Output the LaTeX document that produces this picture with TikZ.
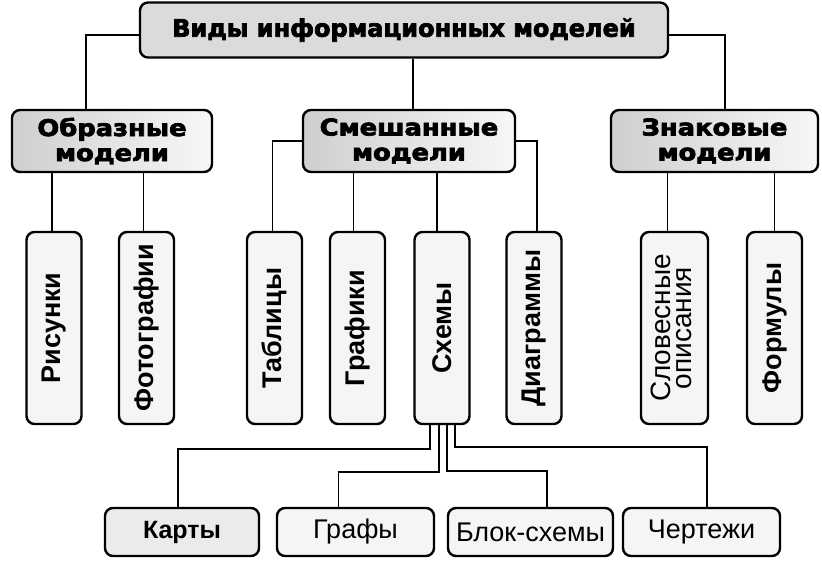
\documentclass[tikz,border=0pt]{standalone}
\usepackage{fontspec}
\setmainfont{Liberation Sans}
\newfontfamily\heavy{DejaVu Sans}[BoldFeatures={FakeBold=3}]
\usetikzlibrary{calc}
\tikzset{
  boxbase/.style={draw=black, line width=2.4pt, rounded corners=8pt, inner sep=0pt, align=center},
  topbox/.style={boxbase, fill=gray!28, minimum width=528pt, minimum height=55pt,
     font=\heavy\bfseries\fontsize{24}{28}\selectfont},
  catbox/.style={boxbase, left color=gray!38, right color=gray!6, minimum height=62pt,
     font=\heavy\bfseries\fontsize{23}{25}\selectfont},
  vbox/.style={boxbase, fill=gray!8, minimum width=55pt, minimum height=192pt,
     font=\bfseries\fontsize{27}{30}\selectfont},
  bbox/.style={boxbase, fill=gray!8, minimum height=48pt, font=\fontsize{27}{30}\selectfont},
  conn/.style={line width=1.6pt, draw=black}
}
\newcommand{\wide}[1]{\scalebox{1.12}[1]{#1}}
\begin{document}
\begin{tikzpicture}[x=1pt,y=-1pt]
\useasboundingbox[fill=white] (0,0) rectangle (822,562);
% top
\node[topbox] (top) at (404,30) {\raisebox{-3pt}{Виды информационных моделей}};
% categories
\node[catbox, minimum width=200pt] (obr) at (112,141) {\wide{Образные}\\\wide{модели}};
\node[catbox, minimum width=212pt] (smesh) at (409,141) {\wide{Смешанные}\\\wide{модели}};
\node[catbox, minimum width=207pt] (znak) at (714.5,141) {\wide{Знаковые}\\\wide{модели}};
% vertical boxes
\node[vbox] (ris) at (54,328) {\rotatebox{90}{Рисунки}};
\node[vbox] (foto) at (146.5,328) {\rotatebox{90}{Фотографии}};
\node[vbox] (tabl) at (274.5,328) {\rotatebox{90}{Таблицы}};
\node[vbox] (graf) at (357.5,328) {\rotatebox{90}{Графики}};
\node[vbox] (shem) at (442,328) {\rotatebox{90}{Схемы}};
\node[vbox] (diag) at (534,328) {\rotatebox{90}{Диаграммы}};
\node[vbox, minimum width=67pt, font=\fontsize{28}{24}\selectfont] (slov) at (674.5,328)
  {\rotatebox{90}{\renewcommand{\arraystretch}{0.8}\begin{tabular}{@{}c@{}}Словесные\\описания\end{tabular}}};
\node[vbox] (form) at (774.5,328) {\rotatebox{90}{Формулы}};
% bottom boxes
\node[bbox, minimum width=154pt, fill=gray!16, font=\bfseries\fontsize{25}{28}\selectfont] (karty) at (182,532) {Карты};
\node[bbox, minimum width=157pt] (grafy) at (355.5,532) {Графы};
\node[bbox, minimum width=165pt] (blok) at (530.5,532) {Блок-схемы};
\node[bbox, minimum width=157pt] (cherte) at (701.5,532) {Чертежи};
% connectors top
\draw[conn] ([yshift=-5pt]top.west) -| ([xshift=-26pt]obr.north);
\draw[conn] ([yshift=-5pt]top.east) -| ([xshift=10.5pt]znak.north);
\draw[conn] ([xshift=4pt]smesh.north) -- ([xshift=4pt]smesh.north |- top.south);
% obr
\draw[conn] ([xshift=-2pt]ris.north) -- ([xshift=-2pt]ris.north |- obr.south);
\draw[conn] ([xshift=-3pt]foto.north) -- ([xshift=-3pt]foto.north |- obr.south);
% smesh
\draw[conn] (smesh.west) -| ([xshift=-2pt]tabl.north);
\draw[conn] ([xshift=-4pt]graf.north) -- ([xshift=-4pt]graf.north |- smesh.south);
\draw[conn] ([xshift=-5pt]shem.north) -- ([xshift=-5pt]shem.north |- smesh.south);
\draw[conn] (smesh.east) -| ([xshift=3pt]diag.north);
% znak
\draw[conn] ([xshift=-7pt]slov.north) -- ([xshift=-7pt]slov.north |- znak.south);
\draw[conn] (form.north) -- (form.north |- znak.south);
% shem to bottom
\draw[conn] ([xshift=-12pt]shem.south) -- ++(0,24) -| ([xshift=-4pt]karty.north);
\draw[conn] ([xshift=-3pt]shem.south) -- ++(0,47) -| ([xshift=-17pt]grafy.north);
\draw[conn] ([xshift=5pt]shem.south) -- ++(0,46) -| ([xshift=16.5pt]blok.north);
\draw[conn] ([xshift=13pt]shem.south) -- ++(0,22) -| ([xshift=5.5pt]cherte.north);
\end{tikzpicture}
\end{document}
